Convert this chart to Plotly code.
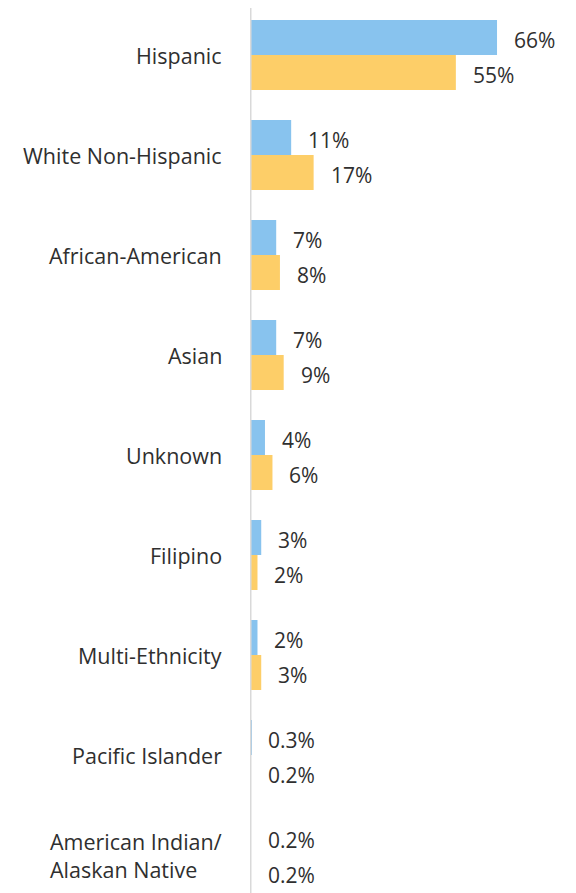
import plotly.graph_objects as go

categories = ["Hispanic", "White Non-Hispanic", "African-American", "Asian", "Unknown",
              "Filipino", "Multi-Ethnicity", "Pacific Islander", "American Indian/<br>Alaskan Native"]
series_a = [66, 11, 7, 7, 4, 3, 2, 0.3, 0.2]
series_b = [55, 17, 8, 9, 6, 2, 3, 0.2, 0.2]

BLUE = "#88C3EE"
YELLOW = "#FDCE68"
TEXT = "#2f2f2f"
FONT = "Open Sans"

fig = go.Figure()
fig.add_trace(go.Bar(y=categories, x=series_a, orientation="h", marker=dict(color=BLUE, line=dict(width=0)), hoverinfo="skip"))
fig.add_trace(go.Bar(y=categories, x=series_b, orientation="h", marker=dict(color=YELLOW, line=dict(width=0)), hoverinfo="skip"))

annotations = []
for c, a, b in zip(categories, series_a, series_b):
    annotations.append(dict(x=a, y=c, xref="x", yref="y", text=f"{a:g}%", showarrow=False,
                            xanchor="left", yanchor="middle", xshift=15, yshift=15,
                            font=dict(family=FONT, size=21, color=TEXT)))
    annotations.append(dict(x=b, y=c, xref="x", yref="y", text=f"{b:g}%", showarrow=False,
                            xanchor="left", yanchor="middle", xshift=15, yshift=-20,
                            font=dict(family=FONT, size=21, color=TEXT)))
    annotations.append(dict(x=0, y=c, xref="paper", yref="y", text=c, showarrow=False,
                            xanchor="right", yanchor="middle", xshift=-26, align="left",
                            font=dict(family=FONT, size=21.5, color=TEXT)))

fig.update_layout(
    width=568, height=885,
    margin=dict(l=242, r=0, t=0, b=0),
    paper_bgcolor="white", plot_bgcolor="white",
    barmode="group", bargap=0.3, bargroupgap=0,
    showlegend=False,
    annotations=annotations,
    shapes=[dict(type="line", xref="x", yref="paper", x0=0, x1=0, y0=0, y1=1,
                 line=dict(color="#d9d9d9", width=3), layer="above")],
    xaxis=dict(range=[0, 87.1], visible=False, showgrid=False, zeroline=False),
    yaxis=dict(range=[8.38, -0.47], showticklabels=False, ticks="", showgrid=False, zeroline=False,
               showline=False),
)

fig.write_html("out.html")
